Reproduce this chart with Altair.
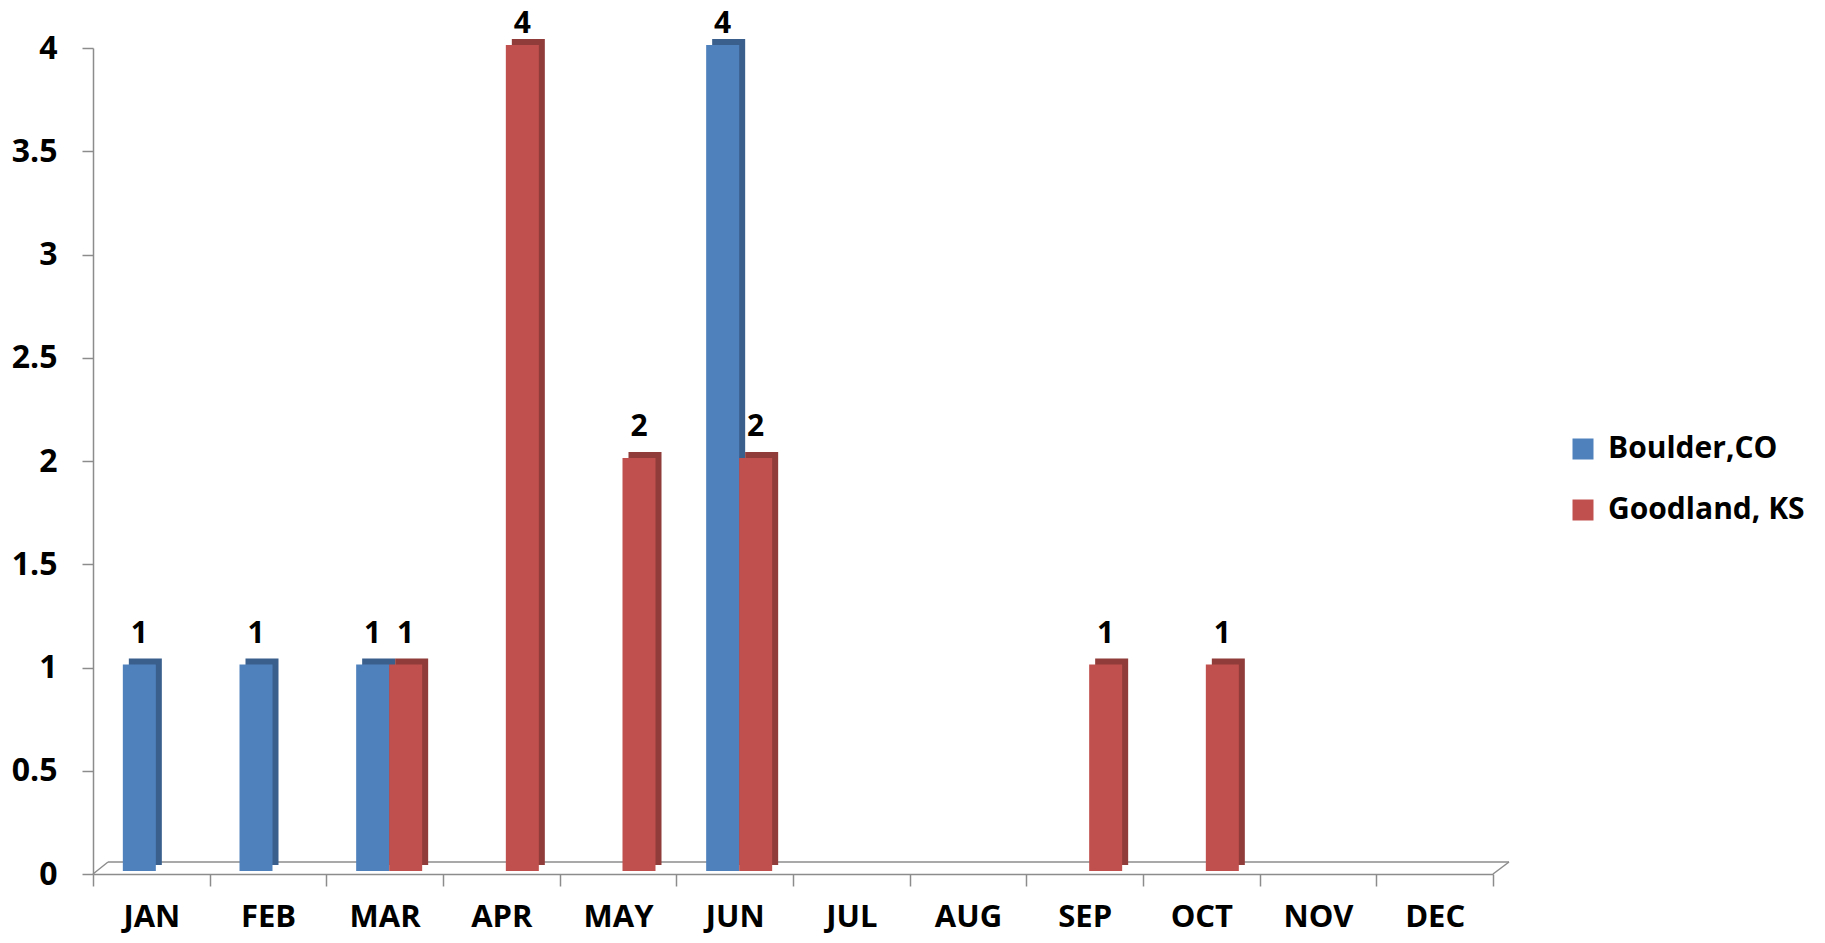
import altair as alt
import pandas as pd

months = ["JAN", "FEB", "MAR", "APR", "MAY", "JUN", "JUL", "AUG", "SEP", "OCT", "NOV", "DEC"]
boulder = [1, 1, 1, 0, 0, 4, 0, 0, 0, 0, 0, 0]
goodland = [0, 0, 1, 4, 2, 2, 0, 0, 1, 1, 0, 0]
series = ["Boulder,CO", "Goodland, KS"]
front_colors = ["#4F81BD", "#C0504D"]
dark_colors = ["#3A5F8D", "#8F3C3A"]
y_ticks = [0, 0.5, 1, 1.5, 2, 2.5, 3, 3.5, 4]

W, H = 1400, 826
FONT = "Open Sans"
GRAY = "#8C8C8C"

df = pd.DataFrame({
    "month": months * 2,
    "series": [series[0]] * 12 + [series[1]] * 12,
    "value": boulder + goodland,
    "dark": [dark_colors[0]] * 12 + [dark_colors[1]] * 12,
})

x_enc = alt.X(
    "month:N", sort=months,
    scale=alt.Scale(domain=months, paddingInner=0, paddingOuter=0),
    axis=alt.Axis(title=None, labelAngle=0, tickBand="extent", tickSize=12,
                  labelPadding=16, labelFont=FONT, labelFontSize=31,
                  labelFontWeight="bold", labelColor="black",
                  domainColor=GRAY, tickColor=GRAY, domainWidth=1.5, tickWidth=1.5),
)
y_enc = alt.Y(
    "value:Q",
    scale=alt.Scale(domain=[0, 4], nice=False),
    axis=alt.Axis(title=None, values=y_ticks, format="~g", grid=False, tickSize=11,
                  labelPadding=25, labelFont=FONT, labelFontSize=32,
                  labelFontWeight="bold", labelColor="black",
                  domainColor=GRAY, tickColor=GRAY, domainWidth=1.5, tickWidth=1.5),
)

base = alt.Chart(df)
BAR_W = 33
offsets = {series[0]: -12, series[1]: 21}
SHIFT_X, SHIFT_Y, LIFT = 6, 6, 3

layers = []
# floor lines (decoration)
floor = pd.DataFrame({"k": [0]})
layers.append(alt.Chart(floor).mark_rule(color=GRAY, strokeWidth=1.5).encode(
    x=alt.value(15), x2=alt.value(W + 16), y=alt.value(H - 12)))
layers.append(alt.Chart(floor).mark_rule(color=GRAY, strokeWidth=1.5).encode(
    x=alt.value(0), x2=alt.value(15), y=alt.value(H), y2=alt.value(H - 12)))
layers.append(alt.Chart(floor).mark_rule(color=GRAY, strokeWidth=1.5).encode(
    x=alt.value(W), x2=alt.value(W + 16), y=alt.value(H), y2=alt.value(H - 12)))

for s in series:
    sub = base.transform_filter(
        (alt.datum.series == s) & (alt.datum.value > 0))
    layers.append(sub.mark_bar(width=BAR_W, xOffset=offsets[s] + SHIFT_X,
                               yOffset=-LIFT - SHIFT_Y, y2Offset=-LIFT - SHIFT_Y).encode(
        x=x_enc, y=y_enc, color=alt.Color("dark:N", scale=None)))

for s in series:
    sub = base.transform_filter(
        (alt.datum.series == s) & (alt.datum.value > 0))
    layers.append(sub.mark_bar(width=BAR_W, xOffset=offsets[s],
                               yOffset=-LIFT, y2Offset=-LIFT).encode(
        x=x_enc, y=y_enc,
        color=alt.Color("series:N",
                        scale=alt.Scale(domain=series, range=front_colors),
                        legend=alt.Legend(title=None, orient="none", legendX=1475,
                                          legendY=386, symbolType="square",
                                          symbolSize=441, symbolStrokeWidth=0,
                                          labelFont=FONT, labelFontSize=30,
                                          labelFontWeight="bold", labelColor="black",
                                          labelLimit=400, rowPadding=31,
                                          labelOffset=10))))
    for cond, dy in [(alt.datum.value < 4, -25), (alt.datum.value >= 4, -15)]:
        layers.append(sub.transform_filter(cond).mark_text(
            xOffset=offsets[s], dy=dy, baseline="alphabetic",
            font=FONT, fontSize=30, fontWeight="bold", color="black").encode(
            x=x_enc, y=y_enc, text=alt.Text("value:Q", format="~g")))

chart = alt.layer(*layers).properties(
    width=W, height=H,
    autosize=alt.AutoSizeParams(type="none"),
    padding={"left": 85, "top": 40, "right": 318, "bottom": 61},
).configure_view(stroke=None)

chart.save("out.html", embed_options={"renderer": "svg", "actions": False})
